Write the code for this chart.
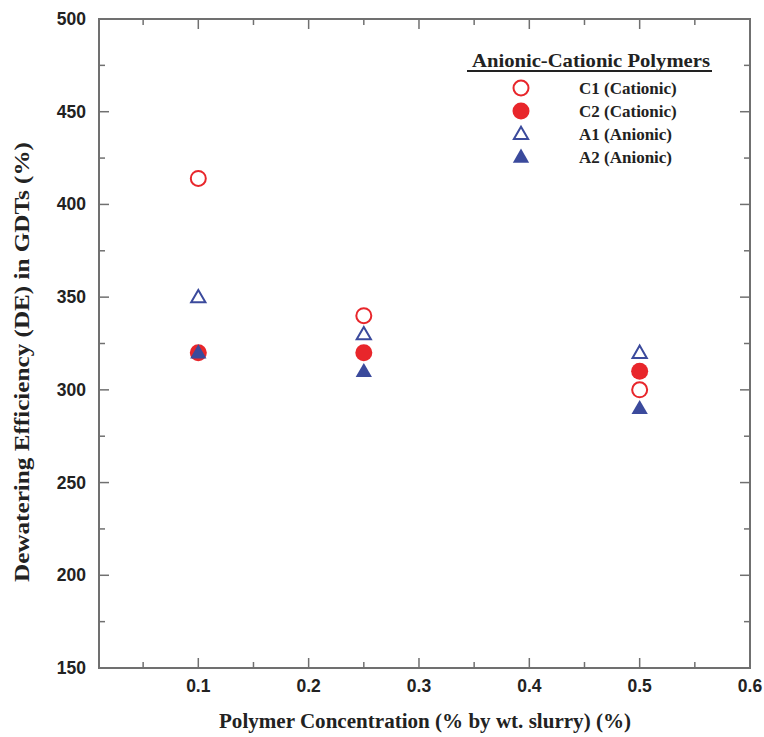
<!doctype html>
<html>
  <head>
    <meta charset="utf-8" />
    <title>Dewatering Efficiency vs Polymer Concentration</title>
    <script src="https://cdn.jsdelivr.net/npm/d3@7"></script>
    <style>
      html,
      body {
        margin: 0;
        background: #fff;
        overflow: hidden;
      }
      .tick-label {
        font-family: "Liberation Sans", Arial, sans-serif;
        font-weight: bold;
        font-size: 17.5px;
        fill: #222;
      }
      .serif {
        font-family: "Liberation Serif", "Times New Roman", serif;
        font-weight: bold;
        fill: #222;
      }
    </style>
  </head>
  <body>
    <script>
      // concentrations (% by wt. slurry)
      const concentrations = [0.1, 0.25, 0.5];

      // dewatering efficiency (%) per polymer
      const c1Values = [414, 340, 300];
      const c2Values = [320, 320, 310];
      const a1Values = [350, 330, 320];
      const a2Values = [320, 310, 290];

      const xTicks = [0.1, 0.2, 0.3, 0.4, 0.5, 0.6];
      const yTicks = [150, 200, 250, 300, 350, 400, 450, 500];

      const red = "#e8262b";
      const blue = "#3b4a9c";

      const series = [
        { name: "C1 (Cationic)", values: c1Values, shape: "circle", filled: false, color: red },
        { name: "C2 (Cationic)", values: c2Values, shape: "circle", filled: true, color: red },
        { name: "A1 (Anionic)", values: a1Values, shape: "triangle", filled: false, color: blue },
        { name: "A2 (Anionic)", values: a2Values, shape: "triangle", filled: true, color: blue },
      ];

      const width = 764;
      const height = 737;
      const margin = { top: 19, right: 14, bottom: 69, left: 99 };

      const x = d3
        .scaleLinear()
        .domain([0.01, 0.6])
        .range([margin.left, width - margin.right]);
      const y = d3
        .scaleLinear()
        .domain([150, 500])
        .range([height - margin.bottom, margin.top]);

      const svg = d3
        .select("body")
        .append("svg")
        .attr("width", width)
        .attr("height", height);

      const axisColor = "#707070";
      const x0 = x.range()[0],
        x1 = x.range()[1];
      const y0 = y.range()[0],
        y1 = y.range()[1];

      // ticks (inward, on all four sides)
      const ticks = svg.append("g").attr("stroke", axisColor).attr("stroke-width", 1.5);
      const xMinor = d3.range(0.05, 0.6, 0.1);
      const yMinor = d3.range(175, 500, 50);
      xTicks.forEach((t) => {
        ticks.append("line").attr("x1", x(t)).attr("x2", x(t)).attr("y1", y0).attr("y2", y0 - 10);
        ticks.append("line").attr("x1", x(t)).attr("x2", x(t)).attr("y1", y1).attr("y2", y1 + 10);
      });
      xMinor.forEach((t) => {
        ticks.append("line").attr("x1", x(t)).attr("x2", x(t)).attr("y1", y0).attr("y2", y0 - 6);
        ticks.append("line").attr("x1", x(t)).attr("x2", x(t)).attr("y1", y1).attr("y2", y1 + 6);
      });
      yTicks.forEach((t) => {
        ticks.append("line").attr("x1", x0).attr("x2", x0 + 10).attr("y1", y(t)).attr("y2", y(t));
        ticks.append("line").attr("x1", x1).attr("x2", x1 - 10).attr("y1", y(t)).attr("y2", y(t));
      });
      yMinor.forEach((t) => {
        ticks.append("line").attr("x1", x0).attr("x2", x0 + 6).attr("y1", y(t)).attr("y2", y(t));
        ticks.append("line").attr("x1", x1).attr("x2", x1 - 6).attr("y1", y(t)).attr("y2", y(t));
      });

      // frame
      svg
        .append("rect")
        .attr("x", x0)
        .attr("y", y1)
        .attr("width", x1 - x0)
        .attr("height", y0 - y1)
        .attr("fill", "none")
        .attr("stroke", axisColor)
        .attr("stroke-width", 2);

      // tick labels
      svg
        .append("g")
        .selectAll("text")
        .data(xTicks)
        .join("text")
        .attr("class", "tick-label")
        .attr("x", (d) => x(d))
        .attr("y", y0 + 24)
        .attr("text-anchor", "middle")
        .text((d) => d3.format(".1f")(d));

      svg
        .append("g")
        .selectAll("text")
        .data(yTicks)
        .join("text")
        .attr("class", "tick-label")
        .attr("x", x0 - 13)
        .attr("y", (d) => y(d) + 6)
        .attr("text-anchor", "end")
        .text((d) => d);

      // axis titles
      svg
        .append("text")
        .attr("class", "serif")
        .attr("font-size", 20)
        .attr("x", 425)
        .attr("y", 728)
        .attr("text-anchor", "middle")
        .attr("textLength", 412)
        .attr("lengthAdjust", "spacingAndGlyphs")
        .text("Polymer Concentration (% by wt. slurry) (%)");

      svg
        .append("text")
        .attr("class", "serif")
        .attr("font-size", 20)
        .attr("transform", "translate(29,362) rotate(-90)")
        .attr("text-anchor", "middle")
        .attr("textLength", 440)
        .attr("lengthAdjust", "spacingAndGlyphs")
        .text("Dewatering Efficiency (DE) in GDTs (%)");

      // markers
      const triangle = d3.symbol().type(d3.symbolTriangle);
      function drawMarker(g, s, cx, cy) {
        if (s.shape === "circle") {
          g.append("circle")
            .attr("cx", cx)
            .attr("cy", cy)
            .attr("r", s.filled ? 8.5 : 7.5)
            .attr("fill", s.filled ? s.color : "none")
            .attr("stroke", s.color)
            .attr("stroke-width", s.filled ? 0 : 2);
        } else {
          g.append("path")
            .attr("d", triangle.size(s.filled ? 115 : 88)())
            .attr("transform", `translate(${cx},${cy + 1})`)
            .attr("fill", s.filled ? s.color : "none")
            .attr("stroke", s.color)
            .attr("stroke-width", s.filled ? 0 : 2);
        }
      }

      const marks = svg.append("g");
      series.forEach((s) => {
        s.values.forEach((v, i) => drawMarker(marks, s, x(concentrations[i]), y(v)));
      });

      // legend
      const legend = svg.append("g");
      legend
        .append("text")
        .attr("class", "serif")
        .attr("font-size", 19)
        .attr("x", 591)
        .attr("y", 67)
        .attr("text-anchor", "middle")
        .attr("textLength", 238)
        .attr("lengthAdjust", "spacingAndGlyphs")
        .text("Anionic-Cationic Polymers");
      legend
        .append("line")
        .attr("x1", 467)
        .attr("x2", 712)
        .attr("y1", 71)
        .attr("y2", 71)
        .attr("stroke", "#222")
        .attr("stroke-width", 2);

      series.forEach((s, i) => {
        const ly = 88 + i * 23;
        drawMarker(legend, s, 521, ly);
        legend
          .append("text")
          .attr("class", "serif")
          .attr("font-size", 17)
          .attr("x", 579)
          .attr("y", ly + 6)
          .text(s.name);
      });
    </script>
  </body>
</html>
